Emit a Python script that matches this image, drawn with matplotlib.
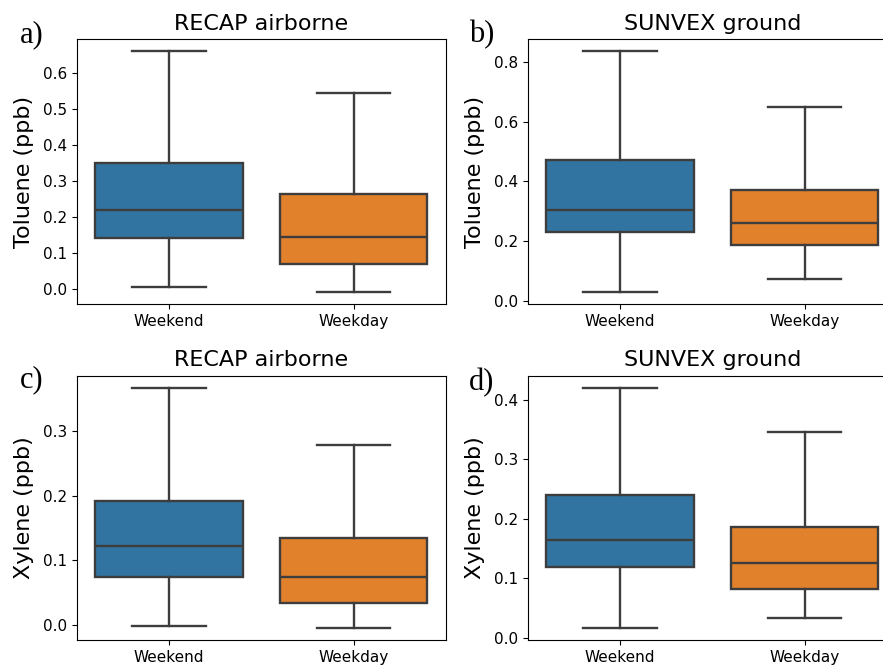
import matplotlib
matplotlib.use("Agg")
import matplotlib.pyplot as plt
from matplotlib.ticker import MultipleLocator

# =========================
# data (box stats)
# =========================
groups = ["Weekend", "Weekday"]
colors = ["#3274A1", "#E1812C"]

# order: whislo, q1, med, q3, whishi
tol_recap_weekend = [0.008, 0.144, 0.221, 0.352, 0.661]
tol_recap_weekday = [-0.007, 0.071, 0.146, 0.265, 0.544]
tol_sunvex_weekend = [0.029, 0.230, 0.305, 0.473, 0.836]
tol_sunvex_weekday = [0.074, 0.185, 0.261, 0.370, 0.648]
xyl_recap_weekend = [-0.002, 0.074, 0.123, 0.192, 0.368]
xyl_recap_weekday = [-0.005, 0.034, 0.074, 0.134, 0.279]
xyl_sunvex_weekend = [0.017, 0.120, 0.165, 0.240, 0.420]
xyl_sunvex_weekday = [0.033, 0.082, 0.126, 0.187, 0.345]

panels = [
    ("a)", "RECAP airborne", "Toluene (ppb)", [tol_recap_weekend, tol_recap_weekday], 0.1),
    ("b)", "SUNVEX ground", "Toluene (ppb)", [tol_sunvex_weekend, tol_sunvex_weekday], 0.2),
    ("c)", "RECAP airborne", "Xylene (ppb)", [xyl_recap_weekend, xyl_recap_weekday], 0.1),
    ("d)", "SUNVEX ground", "Xylene (ppb)", [xyl_sunvex_weekend, xyl_sunvex_weekday], 0.1),
]

# axes rectangles in figure fraction (right column runs off the edge like the original)
rects = [
    [0.0869, 0.5429, 0.418, 0.398],
    [0.5976, 0.5429, 0.418, 0.398],
    [0.0869, 0.0376, 0.418, 0.3975],
    [0.5976, 0.0376, 0.418, 0.3975],
]
label_pos = [(0.023, 0.936), (0.531, 0.936), (0.023, 0.417), (0.531, 0.413)]

line_col = "#3d3d3d"
lw = 1.7

fig = plt.figure(figsize=(8.83, 6.65), dpi=100)

for (tag, title, ylabel, stats_vals, step), rect, lp in zip(panels, rects, label_pos):
    ax = fig.add_axes(rect)
    stats = []
    for name, v in zip(groups, stats_vals):
        stats.append({"label": name, "whislo": v[0], "q1": v[1], "med": v[2],
                      "q3": v[3], "whishi": v[4], "fliers": []})
    bp = ax.bxp(stats, positions=[0, 1], widths=0.8, patch_artist=True,
                showfliers=False,
                boxprops=dict(edgecolor=line_col, linewidth=lw),
                medianprops=dict(color=line_col, linewidth=lw),
                whiskerprops=dict(color=line_col, linewidth=lw),
                capprops=dict(color=line_col, linewidth=lw))
    for patch, c in zip(bp["boxes"], colors):
        patch.set_facecolor(c)
    ax.set_xlim(-0.5, 1.5)
    ax.set_xticks([0, 1])
    ax.set_xticklabels(groups, fontsize=11)
    ax.yaxis.set_major_locator(MultipleLocator(step))
    ax.yaxis.set_major_formatter(matplotlib.ticker.FormatStrFormatter("%.1f"))
    ax.tick_params(axis="y", labelsize=11)
    ax.set_title(title, fontsize=16, pad=7)
    ax.set_ylabel(ylabel, fontsize=16, labelpad=6)
    fig.text(lp[0], lp[1], tag, fontsize=22, family="Liberation Serif", va="baseline")

fig.savefig("out.png", dpi=100)
plt.close(fig)
